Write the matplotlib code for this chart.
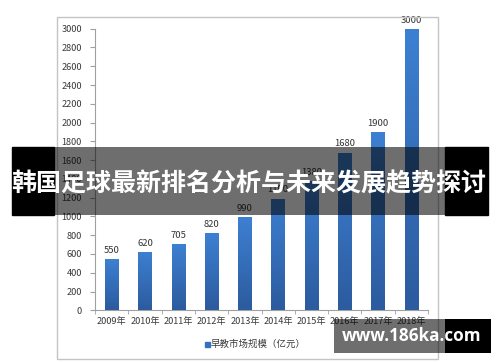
import matplotlib
matplotlib.use("Agg")
import matplotlib.pyplot as plt
import numpy as np
from matplotlib.patches import Rectangle
from matplotlib.colors import LinearSegmentedColormap

plt.rcParams['font.family'] = ['Noto Sans CJK SC', 'DejaVu Sans']

years = ["2009年", "2010年", "2011年", "2012年", "2013年", "2014年", "2015年", "2016年", "2017年", "2018年"]
values = [550, 620, 705, 820, 990, 1190, 1380, 1680, 1900, 3000]
yticks = list(range(0, 3001, 200))
legend_label = "早教市场规模（亿元）"
title = "韩国足球最新排名分析与未来发展趋势探讨"
watermark = "www.186ka.com"

W, H = 500, 362
fig = plt.figure(figsize=(5, 3.62), dpi=100)
fig.patch.set_facecolor('white')

def fx(px): return px / W
def fy(py): return 1 - py / H

# chart frame
fig.patches.append(Rectangle((fx(57), fy(359)), fx(438) - fx(57), fy(17) - fy(359),
                             transform=fig.transFigure, fill=False, edgecolor='#c4c4c4', lw=1.0, zorder=0))

ax = fig.add_axes([fx(95), fy(310.3), fx(428) - fx(95), fy(28.7) - fy(310.3)])

x = np.arange(len(years))
bars = ax.bar(x, values, width=0.4, color='#3570bd', zorder=2)
cmap = LinearSegmentedColormap.from_list('g', ['#2c5b9e', '#3d80d2'])
grad = np.linspace(0, 1, 256).reshape(-1, 1)
for b in bars:
    x0 = b.get_x(); w = b.get_width(); h = b.get_height()
    im = ax.imshow(grad, extent=[x0, x0 + w, 0, h], origin='lower', aspect='auto', cmap=cmap, zorder=3)
    im.set_clip_path(b)
ax.set_xlim(-0.5, len(years) - 0.5)
ax.set_ylim(0, 3000)

for xi, v in zip(x, values):
    ax.annotate(str(v), (xi, v), xytext=(0, 3), textcoords='offset points',
                ha='center', va='bottom', fontsize=6.8, color='#333333', zorder=4)

ax.set_yticks(yticks)
ax.set_yticklabels([str(t) for t in yticks], fontsize=6.6, color='#3a3a3a')
ax.set_xticks(x)
ax.set_xticklabels(years, fontsize=6.6, color='#3a3a3a')
ax.tick_params(axis='x', length=0, pad=5)
ax.tick_params(axis='y', length=3.5, color='#a0a0a0', pad=6)
ax.set_xticks(np.arange(-0.5, len(years), 1.0), minor=True)
ax.tick_params(axis='x', which='minor', length=3, color='#a0a0a0', direction='out')
for s in ['top', 'right']:
    ax.spines[s].set_visible(False)
for s in ['left', 'bottom']:
    ax.spines[s].set_color('#a0a0a0')
    ax.spines[s].set_linewidth(0.8)
ax.set_facecolor('none')

# legend
fig.patches.append(Rectangle((fx(204.5), fy(346.5)), fx(5), fy(341.5) - fy(346.5),
                             transform=fig.transFigure, color='#3570bd'))
fig.text(fx(211), fy(344), legend_label, fontsize=6.8, color='#3a3a3a', ha='left', va='center')

# title banner
fig.patches.append(Rectangle((fx(12), fy(215)), fx(54) - fx(12), fy(147) - fy(215),
                             transform=fig.transFigure, color='black', zorder=10))
fig.patches.append(Rectangle((fx(445), fy(215)), fx(488) - fx(445), fy(147) - fy(215),
                             transform=fig.transFigure, color='black', zorder=10))
fig.patches.append(Rectangle((fx(54), fy(215)), fx(445) - fx(54), fy(147) - fy(215),
                             transform=fig.transFigure, color='black', alpha=0.57, lw=0, zorder=10))
fig.text(fx(248.5), fy(184), title, fontsize=18, fontweight='bold', color='white',
         ha='center', va='center', zorder=11)

# watermark
fig.patches.append(Rectangle((fx(334), fy(353)), fx(445) - fx(334), fy(319) - fy(353),
                             transform=fig.transFigure, color='black', alpha=0.57, lw=0, zorder=10))
fig.patches.append(Rectangle((fx(445), fy(353)), fx(491) - fx(445), fy(319) - fy(353),
                             transform=fig.transFigure, color='black', lw=0, zorder=10))
fig.text(fx(411.5), fy(336), watermark, fontsize=12.3, fontweight='bold', color='white',
         ha='center', va='center', family=['Open Sans', 'DejaVu Sans'], zorder=11)

fig.savefig('out.png', dpi=100)
